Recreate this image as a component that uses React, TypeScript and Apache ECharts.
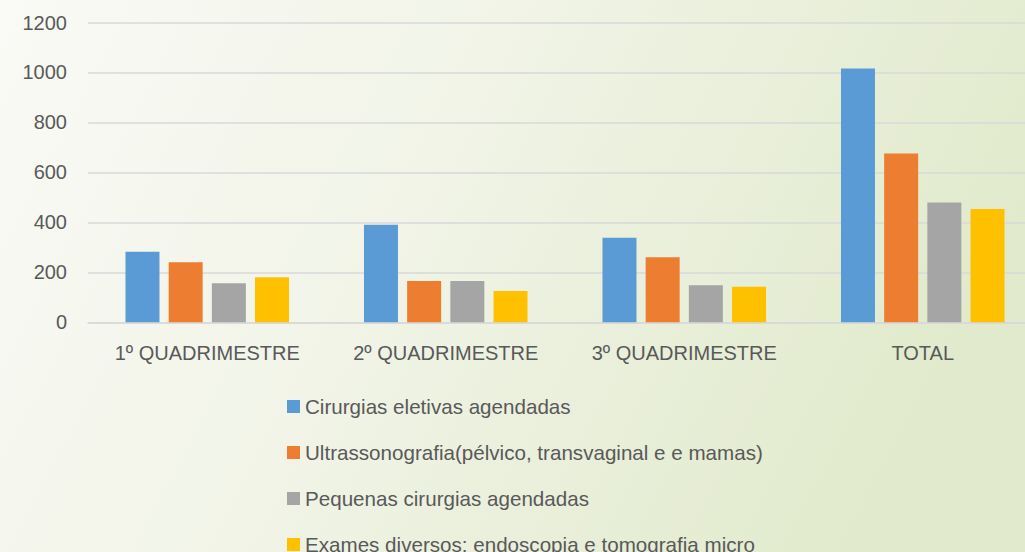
import React, { useEffect, useRef } from "react";
import * as echarts from "echarts";

const categories = ["1º QUADRIMESTRE", "2º QUADRIMESTRE", "3º QUADRIMESTRE", "TOTAL"];
const seriesNames = [
  "Cirurgias eletivas agendadas",
  "Ultrassonografia(pélvico, transvaginal e e mamas)",
  "Pequenas cirurgias agendadas",
  "Exames diversos: endoscopia e tomografia micro",
];
const cirurgias = [282, 390, 338, 1016];
const ultrassonografia = [240, 165, 260, 676];
const pequenas = [156, 165, 148, 480];
const exames = [180, 125, 142, 454];
const colors = ["#5b9bd5", "#ed7d31", "#a5a5a5", "#ffc000"];

const FONT = "'Liberation Sans', Arial, sans-serif";
const CHART_W = 1042;
const CHART_H = 600;

export default function App() {
  const ref = useRef<HTMLDivElement>(null);
  useEffect(() => {
    if (!ref.current) return;
    const chart = echarts.init(ref.current, undefined, { renderer: "svg" });
    const values = [cirurgias, ultrassonografia, pequenas, exames];
    chart.setOption({
      animation: false,
      backgroundColor: new echarts.graphic.LinearGradient(0, 0, 1, 0.3, [
        { offset: 0, color: "#fafaf6" },
        { offset: 0.45, color: "#f1f4e7" },
        { offset: 1, color: "#e1eacc" },
      ]),
      textStyle: { fontFamily: FONT },
      grid: { left: 88, right: 0, top: 22.5, bottom: CHART_H - 322.3, containLabel: false },
      legend: {
        orient: "vertical",
        left: 287,
        top: 396,
        padding: 0,
        itemWidth: 13,
        itemHeight: 13,
        itemGap: 25,
        icon: "rect",
        data: seriesNames,
        textStyle: { fontSize: 20.6, color: "#595959", fontFamily: FONT, lineHeight: 21 },
      },
      xAxis: {
        type: "category",
        data: categories,
        axisLine: { show: true, lineStyle: { color: "#d9d9d9", width: 1.5 } },
        axisTick: { show: false },
        axisLabel: { fontSize: 20, color: "#595959", margin: 21, interval: 0, fontFamily: FONT },
      },
      yAxis: {
        type: "value",
        min: 0,
        max: 1200,
        interval: 200,
        axisLine: { show: false },
        axisTick: { show: false },
        axisLabel: {
          fontSize: 20,
          color: "#595959",
          margin: 21,
          fontFamily: FONT,
          formatter: (v: number) => String(v),
        },
        splitLine: { lineStyle: { color: "#d9d9d9", width: 1.5 } },
      },
      series: seriesNames.map((name, i) => ({
        name,
        type: "bar",
        data: values[i],
        barWidth: 34,
        barGap: "27%",
        itemStyle: { color: colors[i] },
      })),
    });
    return () => chart.dispose();
  }, []);
  return (
    <div
      style={{
        position: "absolute",
        left: 0,
        top: 0,
        width: 1025,
        height: 552,
        overflow: "hidden",
      }}
    >
      <div ref={ref} style={{ width: CHART_W, height: CHART_H }} />
    </div>
  );
}
